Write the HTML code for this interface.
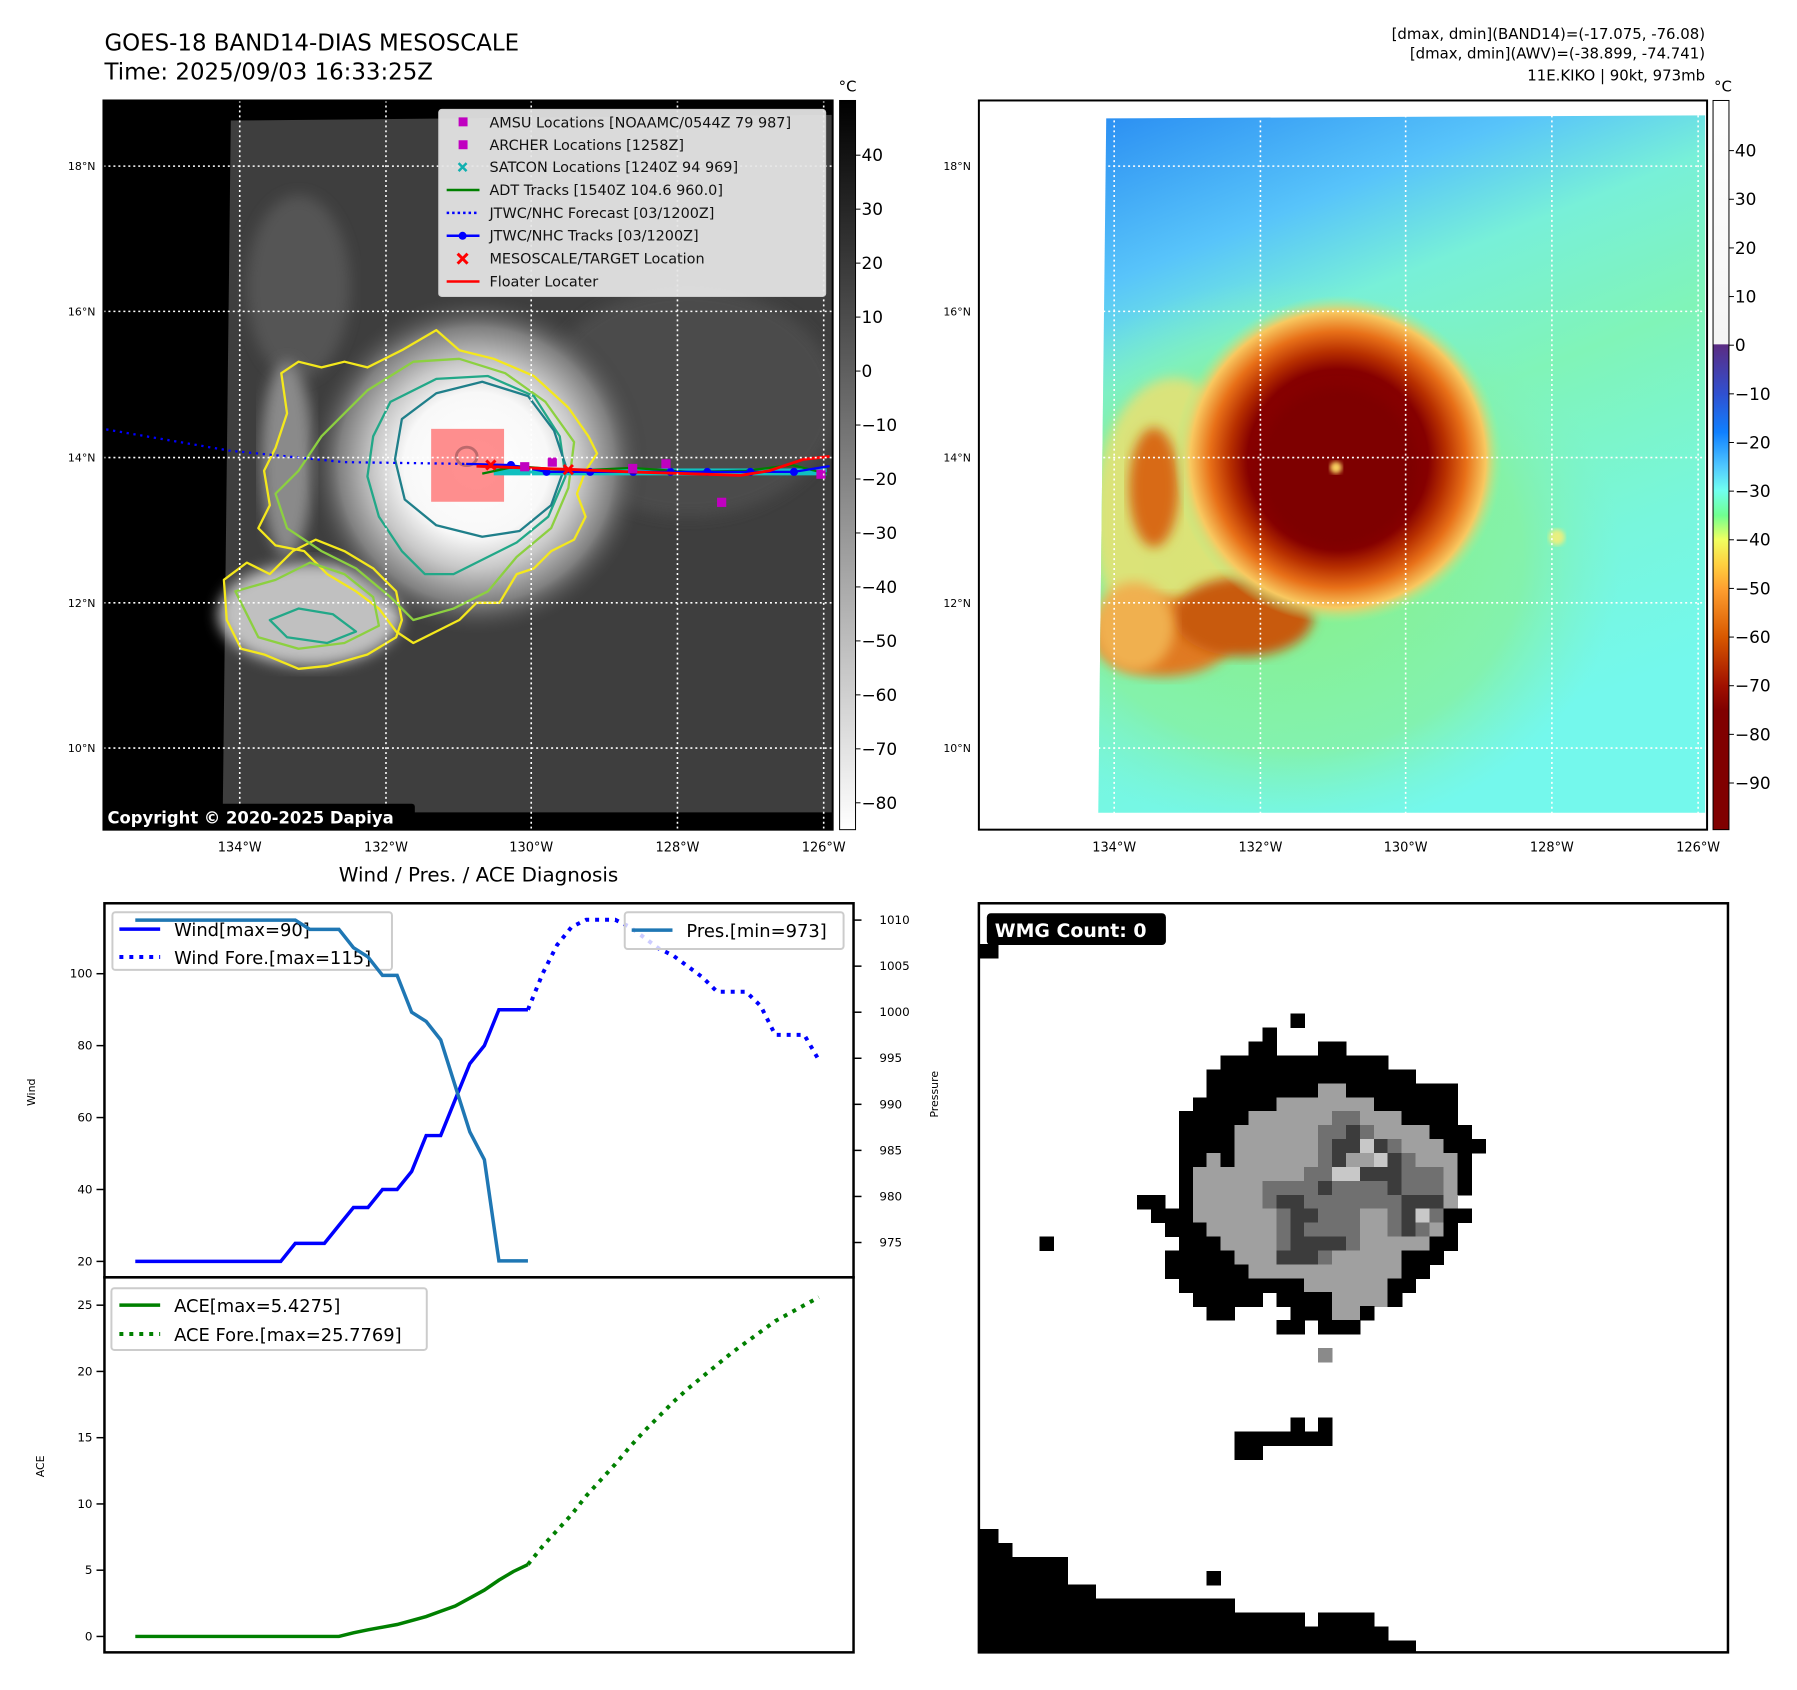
<!DOCTYPE html>
<html><head><meta charset="utf-8"><title>GOES-18 KIKO</title>
<style>
html,body{margin:0;padding:0;background:#fff;}
svg{display:block;font-family:"DejaVu Sans","Liberation Sans",sans-serif;}
</style></head>
<body>
<svg id="root" width="1797" height="1690" viewBox="0 0 1797 1690" xmlns="http://www.w3.org/2000/svg">
<defs>
  <clipPath id="clipL"><rect x="104" y="101" width="733" height="733"/></clipPath>
  <clipPath id="clipR"><rect x="984" y="101" width="732" height="733"/></clipPath>
  <clipPath id="clipW"><rect x="984" y="908" width="753" height="753"/></clipPath>
  <filter id="blur6"><feGaussianBlur stdDeviation="6"/></filter>
  <filter id="blur12"><feGaussianBlur stdDeviation="12"/></filter>
  <filter id="blur3"><feGaussianBlur stdDeviation="2.5"/></filter>
  <radialGradient id="stormGray" cx="0.5" cy="0.5" r="0.5">
    <stop offset="0" stop-color="#ffffff"/><stop offset="0.42" stop-color="#f8f8f8"/>
    <stop offset="0.6" stop-color="#c8c8c8"/><stop offset="0.8" stop-color="#808080"/>
    <stop offset="1" stop-color="#3c3c3c" stop-opacity="0"/>
  </radialGradient>
  <linearGradient id="cbarL" x1="0" y1="0" x2="0" y2="1">
    <stop offset="0" stop-color="#000"/><stop offset="1" stop-color="#fff"/>
  </linearGradient>
  <linearGradient id="cbarR" x1="0" y1="0" x2="0" y2="1">
    <stop offset="0" stop-color="#ffffff"/><stop offset="0.334" stop-color="#f4f4f4"/>
    <stop offset="0.335" stop-color="#5b2c83"/><stop offset="0.402" stop-color="#3050d0"/>
    <stop offset="0.455" stop-color="#1080ff"/><stop offset="0.502" stop-color="#50c8ff"/>
    <stop offset="0.535" stop-color="#70fff0"/><stop offset="0.569" stop-color="#70ff90"/>
    <stop offset="0.602" stop-color="#f0ff60"/><stop offset="0.636" stop-color="#ffd040"/>
    <stop offset="0.669" stop-color="#ffa030"/><stop offset="0.736" stop-color="#d85800"/>
    <stop offset="0.803" stop-color="#a01000"/><stop offset="0.836" stop-color="#800000"/>
    <stop offset="1" stop-color="#800000"/>
  </linearGradient>
  <linearGradient id="awvBase" x1="0" y1="0" x2="0.35" y2="1">
    <stop offset="0" stop-color="#2a8ef2"/><stop offset="0.22" stop-color="#58c4fa"/>
    <stop offset="0.36" stop-color="#78f0d8"/><stop offset="0.55" stop-color="#80f4b8"/>
    <stop offset="0.8" stop-color="#78f6dc"/><stop offset="1" stop-color="#74f8ec"/>
  </linearGradient>
  <radialGradient id="stormAwv" cx="0.5" cy="0.5" r="0.5">
    <stop offset="0" stop-color="#800000"/><stop offset="0.55" stop-color="#860000"/>
    <stop offset="0.66" stop-color="#b83000"/><stop offset="0.78" stop-color="#e87018"/>
    <stop offset="0.9" stop-color="#f8c860"/>
    <stop offset="1" stop-color="#a8f090" stop-opacity="0"/>
  </radialGradient>
  <radialGradient id="greenHalo" cx="0.5" cy="0.5" r="0.5">
    <stop offset="0" stop-color="#88f088"/><stop offset="0.7" stop-color="#88f098" stop-opacity="0.7"/>
    <stop offset="1" stop-color="#80f0c0" stop-opacity="0"/>
  </radialGradient>
</defs>
<g transform="scale(0.9948)">
<text x="105" y="51" font-size="23">GOES-18 BAND14-DIAS MESOSCALE</text>
<text x="105" y="80" font-size="23">Time: 2025/09/03 16:33:25Z</text>
<g font-size="15" text-anchor="end">
  <text x="1714" y="39">[dmax, dmin](BAND14)=(-17.075, -76.08)</text>
  <text x="1714" y="59">[dmax, dmin](AWV)=(-38.899, -74.741)</text>
  <text x="1714" y="81">11E.KIKO | 90kt, 973mb</text>
</g>

<g>
  <rect x="104" y="101" width="733" height="733" fill="#000"/>
  <g clip-path="url(#clipL)">
    <g transform="scale(0.5771)">
      <polygon points="402,210 1450,200 1450,1415 388,1415" fill="#3e3e3e"/>
      <ellipse cx="1200" cy="700" rx="260" ry="200" fill="#4c4c4c" filter="url(#blur12)"/>
      <ellipse cx="520" cy="500" rx="90" ry="160" fill="#555" filter="url(#blur12)"/>
      <ellipse cx="540" cy="1070" rx="160" ry="90" fill="#c0c0c0" filter="url(#blur12)"/>
      <ellipse cx="500" cy="800" rx="45" ry="170" fill="#8a8a8a" filter="url(#blur12)"/>
      <circle cx="830" cy="810" r="300" fill="url(#stormGray)"/>
      <g fill="none" stroke-width="4" stroke-linejoin="round">
        <path stroke="#f4e81c" d="M560,640 L600,630 L640,640 L700,610 L760,575 L800,610 L860,625 L930,655 L990,710 L1025,760 L1040,790 L1020,820 L1005,860 L1020,900 L1000,940 L960,960 L930,990 L900,1000 L870,1050 L830,1050 L800,1080 L760,1100 L720,1120 L690,1100 L660,1060 L620,1030 L570,1000 L530,960 L480,950 L450,920 L470,880 L460,820 L480,780 L500,720 L490,650 L520,630 Z"/>
        <path stroke="#f4e81c" d="M390,1010 L430,980 L470,1000 L510,960 L550,940 L600,960 L650,990 L690,1030 L700,1080 L690,1110 L640,1140 L570,1160 L520,1165 L460,1140 L420,1130 L395,1080 Z"/>
        <path stroke="#8cd040" d="M640,680 L720,630 L800,625 L880,650 L950,700 L1000,770 L990,850 L960,920 L900,970 L850,1030 L790,1060 L720,1080 L680,1040 L620,990 L560,960 L500,920 L480,860 L520,820 L560,760 L600,720 Z"/>
        <path stroke="#8cd040" d="M410,1030 L480,1010 L540,980 L600,1000 L650,1040 L660,1090 L600,1120 L520,1130 L450,1110 Z"/>
        <path stroke="#22a888" d="M680,700 L760,660 L850,655 L930,690 L975,760 L985,830 L955,900 L900,945 L840,975 L790,1000 L740,1000 L700,960 L660,900 L640,830 L650,760 Z"/>
        <path stroke="#1f7f8a" d="M700,730 L760,685 L840,665 L920,690 L965,750 L985,810 L960,880 L905,925 L840,935 L760,915 L705,870 L688,800 Z"/>
        <path stroke="#22a888" d="M470,1080 L520,1060 L580,1070 L620,1100 L570,1120 L500,1110 Z"/>
        <path stroke="#1f7f8a" stroke-width="5" d="M795,795 a18,16 0 1,0 36,0 a18,16 0 1,0 -36,0"/>
      </g>
      <rect x="751" y="747" width="127" height="127" fill="#ff6060" fill-opacity="0.7"/>
      <polyline points="185,748 400,785 600,805 812,808" fill="none" stroke="#0000ff" stroke-width="4" stroke-dasharray="4,8"/>
      <rect x="860" y="816" width="580" height="12" fill="#10c0c0"/>
      <polyline points="840,825 900,812 1000,820 1100,815 1200,822 1300,820 1380,810 1440,825" fill="none" stroke="#008000" stroke-width="4"/>
      <polyline points="812,808 890,810 952,822 1028,822 1103,822 1168,822 1232,822 1307,822 1383,822 1445,812" fill="none" stroke="#0000ff" stroke-width="4"/>
      <g fill="#0000ff"><circle cx="890" cy="810" r="7"/><circle cx="952" cy="822" r="7"/><circle cx="1028" cy="822" r="7"/><circle cx="1103" cy="822" r="7"/><circle cx="1168" cy="822" r="7"/><circle cx="1232" cy="822" r="7"/><circle cx="1307" cy="822" r="7"/><circle cx="1383" cy="822" r="7"/></g>
      <polyline points="830,812 1000,818 1100,822 1290,828 1340,820 1400,800 1445,795" fill="none" stroke="#ff0000" stroke-width="5"/>
      <g fill="#c000c0"><rect x="906" y="805" width="16" height="16"/><rect x="954" y="797" width="16" height="16"/><rect x="1094" y="808" width="16" height="16"/><rect x="1152" y="800" width="16" height="16"/><rect x="1249" y="867" width="16" height="16"/><rect x="1422" y="818" width="16" height="16"/></g>
      <g stroke="#ff0000" stroke-width="5"><path d="M847,802 l16,16 M863,802 l-16,16"/><path d="M982,810 l16,16 M998,810 l-16,16"/></g>
    </g>
    <g stroke="#fff" stroke-width="1.6" stroke-dasharray="2,3">
      <line x1="104" x2="837" y1="167" y2="167"/><line x1="104" x2="837" y1="313" y2="313"/><line x1="104" x2="837" y1="460" y2="460"/><line x1="104" x2="837" y1="606" y2="606"/><line x1="104" x2="837" y1="752" y2="752"/>
      <line y1="101" y2="834" x1="241" x2="241"/><line y1="101" y2="834" x1="388" x2="388"/><line y1="101" y2="834" x1="534" x2="534"/><line y1="101" y2="834" x1="681" x2="681"/><line y1="101" y2="834" x1="828" x2="828"/>
    </g>
    <g>
      <rect x="441" y="110" width="389" height="188" rx="3" fill="#e6e6e6" fill-opacity="0.93" stroke="#ccc"/>
      <g font-size="14.5" fill="#111">
        <rect x="461" y="118" width="9" height="9" fill="#c000c0"/><text x="492" y="128">AMSU Locations [NOAAMC/0544Z 79 987]</text>
        <rect x="461" y="141" width="9" height="9" fill="#c000c0"/><text x="492" y="151">ARCHER Locations [1258Z]</text>
        <path d="M461,164 l8,8 M469,164 l-8,8" stroke="#10b0b0" stroke-width="2.5"/><text x="492" y="173">SATCON Locations [1240Z 94 969]</text>
        <line x1="449" x2="482" y1="191" y2="191" stroke="#008000" stroke-width="2.5"/><text x="492" y="196">ADT Tracks [1540Z 104.6 960.0]</text>
        <line x1="449" x2="482" y1="214" y2="214" stroke="#0000ff" stroke-width="2.5" stroke-dasharray="2.5,3"/><text x="492" y="219">JTWC/NHC Forecast [03/1200Z]</text>
        <line x1="449" x2="482" y1="237" y2="237" stroke="#0000ff" stroke-width="2.5"/><circle cx="465" cy="237" r="4" fill="#0000ff"/><text x="492" y="242">JTWC/NHC Tracks [03/1200Z]</text>
        <path d="M460,255 l10,10 M470,255 l-10,10" stroke="#ff0000" stroke-width="3"/><text x="492" y="265">MESOSCALE/TARGET Location</text>
        <line x1="449" x2="482" y1="283" y2="283" stroke="#ff0000" stroke-width="2.5"/><text x="492" y="288">Floater Locater</text>
      </g>
    </g>
    <rect x="103" y="808" width="314" height="27" rx="3" fill="#000"/>
    <text x="108" y="828" font-size="16.5" font-weight="bold" fill="#fff">Copyright © 2020-2025 Dapiya</text>
  </g>
  <rect x="104" y="101" width="733" height="733" fill="none" stroke="#000" stroke-width="2"/>
  <g font-size="11" text-anchor="end">
    <text x="96" y="171">18°N</text><text x="96" y="317">16°N</text><text x="96" y="464">14°N</text><text x="96" y="610">12°N</text><text x="96" y="756">10°N</text>
  </g>
  <g font-size="13" text-anchor="middle">
    <text x="241" y="856">134°W</text><text x="388" y="856">132°W</text><text x="534" y="856">130°W</text><text x="681" y="856">128°W</text><text x="828" y="856">126°W</text>
  </g>
</g>
<g>
  <rect x="844" y="101" width="16" height="733" fill="url(#cbarL)" stroke="#000" stroke-width="1"/>
  <text x="852" y="92" font-size="15" text-anchor="middle">°C</text>
  <g id="cbl" font-size="17"></g>
</g>

<g>
  <rect x="984" y="101" width="732" height="733" fill="#fff"/>
  <g clip-path="url(#clipR)">
    <polygon points="1112,119 1714,116 1714,817 1104,817" fill="url(#awvBase)"/>
    <clipPath id="clipAwv"><polygon points="1112,119 1714,116 1714,817 1104,817"/></clipPath>
    <g clip-path="url(#clipAwv)">
      <ellipse cx="1300" cy="560" rx="330" ry="280" fill="url(#greenHalo)"/>
      <ellipse cx="1180" cy="520" rx="80" ry="140" fill="#f0e070" filter="url(#blur6)" opacity="0.8"/>
      <ellipse cx="1170" cy="640" rx="70" ry="40" fill="#e07a20" filter="url(#blur6)"/>
      <ellipse cx="1250" cy="620" rx="70" ry="40" fill="#c85a10" filter="url(#blur6)"/>
      <ellipse cx="1160" cy="490" rx="25" ry="60" fill="#d86a18" filter="url(#blur6)"/>
      <ellipse cx="1140" cy="630" rx="40" ry="45" fill="#f0b050" filter="url(#blur6)"/>
      <circle cx="1345" cy="462" r="165" fill="url(#stormAwv)"/>
      <circle cx="1345" cy="470" r="80" fill="#7e0000" filter="url(#blur6)"/>
      <circle cx="1343" cy="470" r="6" fill="#f8d060" filter="url(#blur3)"/>
      <circle cx="1565" cy="540" r="8" fill="#e8f080" filter="url(#blur3)"/>
    </g>
    <g stroke="#fff" stroke-width="1.6" stroke-dasharray="2,3">
      <line x1="984" x2="1716" y1="167" y2="167"/><line x1="984" x2="1716" y1="313" y2="313"/><line x1="984" x2="1716" y1="460" y2="460"/><line x1="984" x2="1716" y1="606" y2="606"/><line x1="984" x2="1716" y1="752" y2="752"/>
      <line y1="101" y2="834" x1="1120" x2="1120"/><line y1="101" y2="834" x1="1267" x2="1267"/><line y1="101" y2="834" x1="1413" x2="1413"/><line y1="101" y2="834" x1="1560" x2="1560"/><line y1="101" y2="834" x1="1707" x2="1707"/>
    </g>
  </g>
  <rect x="984" y="101" width="732" height="733" fill="none" stroke="#000" stroke-width="2"/>
  <g font-size="11" text-anchor="end">
    <text x="976" y="171">18°N</text><text x="976" y="317">16°N</text><text x="976" y="464">14°N</text><text x="976" y="610">12°N</text><text x="976" y="756">10°N</text>
  </g>
  <g font-size="13" text-anchor="middle">
    <text x="1120" y="856">134°W</text><text x="1267" y="856">132°W</text><text x="1413" y="856">130°W</text><text x="1560" y="856">128°W</text><text x="1707" y="856">126°W</text>
  </g>
</g>
<g>
  <rect x="1722" y="101" width="16" height="733" fill="url(#cbarR)" stroke="#000" stroke-width="1"/>
  <text x="1732" y="92" font-size="15" text-anchor="middle">°C</text>
  <g id="cbr" font-size="17"></g>
</g>

<text x="481" y="886" font-size="20" text-anchor="middle">Wind / Pres. / ACE Diagnosis</text>
<g id="chart"></g>

<g>
  <rect x="984" y="908" width="753" height="753" fill="#fff"/>
  <g id="wmg" clip-path="url(#clipW)" shape-rendering="crispEdges"></g>
  <rect x="984" y="908" width="753" height="753" fill="none" stroke="#000" stroke-width="2.5"/>
  <rect x="992" y="918" width="180" height="32" rx="4" fill="#000"/>
  <text x="1000" y="942" font-size="19" font-weight="bold" fill="#fff">WMG Count: 0</text>
</g>
</g>
</svg>

<script>
const windTicks = [20, 40, 60, 80, 100];
const presTicks = [975, 980, 985, 990, 995, 1000, 1005, 1010];
const aceTicks = [0, 5, 10, 15, 20, 25];
const windObs = [20,20,20,20,20,20,20,20,20,20,20,25,25,25,30,35,35,40,40,45,55,55,65,75,80,90,90,90];
const windFcst = [90,100,108,113,115,115,115,113,110,107,105,102,99,95,95,95,91,83,83,83,76];
const presObs = [1010,1010,1010,1010,1010,1010,1010,1010,1010,1010,1010,1010,1009,1009,1009,1007,1006,1004,1004,1000,999,997,992,987,984,973,973,973];
const aceObs = [0,0,0,0,0,0,0,0,0,0,0,0,0,0,0,0.28,0.5,0.7,0.9,1.2,1.5,1.9,2.3,2.9,3.5,4.25,4.9,5.43];
const aceFcst = [5.43,6.8,8.0,9.2,10.6,11.8,13.0,14.3,15.5,16.6,17.7,18.7,19.6,20.5,21.4,22.2,23.0,23.8,24.4,25.0,25.6];
const fcstStart = 27;
const cbLeftTicks = [40,30,20,10,0,-10,-20,-30,-40,-50,-60,-70,-80];
const cbRightTicks = [40,30,20,10,0,-10,-20,-30,-40,-50,-60,-70,-80,-90];

const NS = 'http://www.w3.org/2000/svg';
function mk(tag, attrs, parent){const e=document.createElementNS(NS,tag);for(const k in attrs)e.setAttribute(k,attrs[k]);parent.appendChild(e);return e;}
const xIdx = i => 136 + i*14.62;
const yWind = v => 1268 - (v-20)*3.615;
const yPres = p => 1249 - (p-975)*9.26;
const yAce = v => 1645 - v*13.32;
const fmt = v => (v<0?'\u2212':'')+Math.abs(v);

const cbl = document.getElementById('cbl');
cbLeftTicks.forEach(v=>{const y=373 - v*5.425;
  mk('line',{x1:860,x2:865,y1:y,y2:y,stroke:'#000','stroke-width':1},cbl);
  const t=mk('text',{x:866,y:y+6},cbl);t.textContent=fmt(v);
  
  });
const cbr = document.getElementById('cbr');
cbRightTicks.forEach(v=>{const y=347 - v*4.89;
  mk('line',{x1:1738,x2:1743,y1:y,y2:y,stroke:'#000','stroke-width':1},cbr);
  const t=mk('text',{x:1744,y:y+6},cbr);t.textContent=fmt(v);
  
  });

const ch = document.getElementById('chart');
const pts = (arr, start, fy) => arr.map((v,i)=>xIdx(start+i).toFixed(1)+','+fy(v).toFixed(1)).join(' ');
mk('rect',{x:105,y:908,width:753,height:376,fill:'none',stroke:'#000','stroke-width':2.5},ch);
mk('rect',{x:105,y:1284,width:753,height:377,fill:'none',stroke:'#000','stroke-width':2.5},ch);
windTicks.forEach(v=>{const y=yWind(v);
  mk('line',{x1:97,x2:105,y1:y,y2:y,stroke:'#000','stroke-width':1.5},ch);
  const t=mk('text',{x:93,y:y+4,'font-size':12,'text-anchor':'end'},ch);t.textContent=v;
  
  });
presTicks.forEach(v=>{const y=yPres(v);
  mk('line',{x1:858,x2:866,y1:y,y2:y,stroke:'#000','stroke-width':1.5},ch);
  const t=mk('text',{x:884,y:y+4,'font-size':12},ch);t.textContent=v;
  
  });
aceTicks.forEach(v=>{const y=yAce(v);
  mk('line',{x1:97,x2:105,y1:y,y2:y,stroke:'#000','stroke-width':1.5},ch);
  const t=mk('text',{x:93,y:y+4,'font-size':12,'text-anchor':'end'},ch);t.textContent=v;
  
  });
const yl1=mk('text',{x:0,y:0,'font-size':11,'text-anchor':'middle',transform:'translate(35,1098) rotate(-90)'},ch);yl1.textContent='Wind';


const yl2=mk('text',{x:0,y:0,'font-size':11,'text-anchor':'middle',transform:'translate(943,1100) rotate(-90)'},ch);yl2.textContent='Pressure';


const yl3=mk('text',{x:0,y:0,'font-size':11,'text-anchor':'middle',transform:'translate(44,1474) rotate(-90)'},ch);yl3.textContent='ACE';



const wl=mk('polyline',{points:pts(windObs,0,yWind),fill:'none',stroke:'#0000ff','stroke-width':3.5},ch);


const wf=mk('polyline',{points:pts(windFcst,fcstStart,yWind),fill:'none',stroke:'#0000ff','stroke-width':4,'stroke-dasharray':'4,6'},ch);


const wlg=mk('g',{},ch);


mk('rect',{x:113,y:917,width:281,height:58,rx:3,fill:'#fff','fill-opacity':0.8,stroke:'#ccc','stroke-width':2},wlg);
mk('line',{x1:120,x2:161,y1:934,y2:934,stroke:'#0000ff','stroke-width':3.5},wlg);
mk('line',{x1:120,x2:161,y1:962,y2:962,stroke:'#0000ff','stroke-width':4,'stroke-dasharray':'4,6'},wlg);
mk('text',{x:175,y:941,'font-size':18},wlg).textContent='Wind[max=90]';
mk('text',{x:175,y:969,'font-size':18},wlg).textContent='Wind Fore.[max=115]';
const pl=mk('polyline',{points:pts(presObs,0,yPres),fill:'none',stroke:'#1f77b4','stroke-width':3.5},ch);


const plg=mk('g',{},ch);


mk('rect',{x:628,y:917,width:220,height:37,rx:3,fill:'#fff','fill-opacity':0.8,stroke:'#ccc','stroke-width':2},plg);
mk('line',{x1:635,x2:676,y1:935,y2:935,stroke:'#1f77b4','stroke-width':3.5},plg);
mk('text',{x:690,y:942,'font-size':18},plg).textContent='Pres.[min=973]';
const al=mk('polyline',{points:pts(aceObs,0,yAce),fill:'none',stroke:'#008000','stroke-width':3.5},ch);


const af=mk('polyline',{points:pts(aceFcst,fcstStart,yAce),fill:'none',stroke:'#008000','stroke-width':4,'stroke-dasharray':'4,6'},ch);


const alg=mk('g',{},ch);


mk('rect',{x:112,y:1295,width:317,height:62,rx:3,fill:'#fff','fill-opacity':0.8,stroke:'#ccc','stroke-width':2},alg);
mk('line',{x1:120,x2:161,y1:1312,y2:1312,stroke:'#008000','stroke-width':3.5},alg);
mk('line',{x1:120,x2:161,y1:1341,y2:1341,stroke:'#008000','stroke-width':4,'stroke-dasharray':'4,6'},alg);
mk('text',{x:175,y:1319,'font-size':18},alg).textContent='ACE[max=5.4275]';
mk('text',{x:175,y:1348,'font-size':18},alg).textContent='ACE Fore.[max=25.7769]';

const wmgRows = {
 3:[[0,0,'k']],8:[[22,22,'k']],9:[[20,20,'k']],10:[[19,20,'k'],[24,25,'k']],
 11:[[17,28,'k']],12:[[16,30,'k']],
 13:[[16,23,'k'],[24,25,'g'],[26,33,'k']],
 14:[[15,20,'k'],[21,27,'g'],[28,33,'k']],
 15:[[14,18,'k'],[19,24,'g'],[25,26,'m'],[27,29,'g'],[30,33,'k']],
 16:[[14,17,'k'],[18,23,'g'],[24,25,'m'],[26,26,'d'],[27,27,'m'],[28,31,'g'],[32,34,'k']],
 17:[[14,17,'k'],[18,23,'g'],[24,24,'m'],[25,26,'d'],[27,27,'l'],[28,28,'d'],[29,29,'m'],[30,32,'g'],[33,35,'k']],
 18:[[14,15,'k'],[16,16,'g'],[17,17,'k'],[18,23,'g'],[24,24,'m'],[25,25,'d'],[26,27,'g'],[28,28,'l'],[29,29,'d'],[30,30,'m'],[31,33,'g'],[34,34,'k']],
 19:[[14,14,'k'],[15,22,'g'],[23,24,'m'],[25,26,'l'],[27,29,'d'],[30,32,'m'],[33,33,'g'],[34,34,'k']],
 20:[[14,14,'k'],[15,19,'g'],[20,23,'m'],[24,24,'d'],[25,28,'m'],[29,29,'d'],[30,32,'m'],[33,33,'g'],[34,34,'k']],
 21:[[11,12,'k'],[14,14,'k'],[15,19,'g'],[20,20,'m'],[21,22,'d'],[23,29,'m'],[30,32,'d'],[33,33,'g']],
 22:[[12,14,'k'],[15,20,'g'],[21,21,'m'],[22,23,'d'],[24,26,'m'],[27,28,'g'],[29,29,'m'],[30,30,'d'],[31,31,'l'],[32,32,'m'],[33,34,'k']],
 23:[[13,15,'k'],[16,20,'g'],[21,21,'m'],[22,22,'d'],[23,26,'m'],[27,28,'g'],[29,29,'m'],[30,30,'d'],[31,31,'m'],[32,32,'g'],[33,33,'k']],
 24:[[4,4,'k'],[14,16,'k'],[17,20,'g'],[21,21,'m'],[22,25,'d'],[26,26,'m'],[27,31,'g'],[32,33,'k']],
 25:[[13,17,'k'],[18,20,'g'],[21,23,'d'],[24,24,'m'],[25,29,'g'],[30,32,'k']],
 26:[[13,18,'k'],[19,29,'g'],[30,31,'k']],
 27:[[14,22,'k'],[23,28,'g'],[29,30,'k']],
 28:[[15,19,'k'],[21,24,'k'],[25,28,'g'],[29,29,'k']],
 29:[[16,17,'k'],[22,24,'k'],[25,26,'g'],[27,27,'k']],
 30:[[21,22,'k'],[24,26,'k']],
 32:[[24,24,'x']],
 37:[[22,22,'k'],[24,24,'k']],38:[[18,24,'k']],39:[[18,19,'k']],
 45:[[0,0,'k']],46:[[0,1,'k']],47:[[0,4,'k'],[5,5,'k']],48:[[0,5,'k'],[16,16,'k']],
 49:[[0,7,'k']],50:[[0,17,'k']],51:[[0,22,'k'],[24,27,'k']],52:[[0,28,'k']],53:[[0,30,'k']],54:[[0,30,'k']]
};
const wmgColors = {k:'#000000',g:'#a0a0a0',m:'#707070',d:'#3c3c3c',l:'#c8c8c8',x:'#8a8a8a'};
const wmg = document.getElementById('wmg');
for (const r in wmgRows){
  wmgRows[r].forEach(([c0,c1,code])=>{
    const x0 = c0===0 ? 984 : 989+c0*14;
    const x1 = 989+(c1+1)*14+0.6;
    const cell=mk('rect',{x:x0,y:907+(+r)*14,width:x1-x0,height:14.6,fill:wmgColors[code]},wmg);
    
    
  });
}
</script>
</body></html>
